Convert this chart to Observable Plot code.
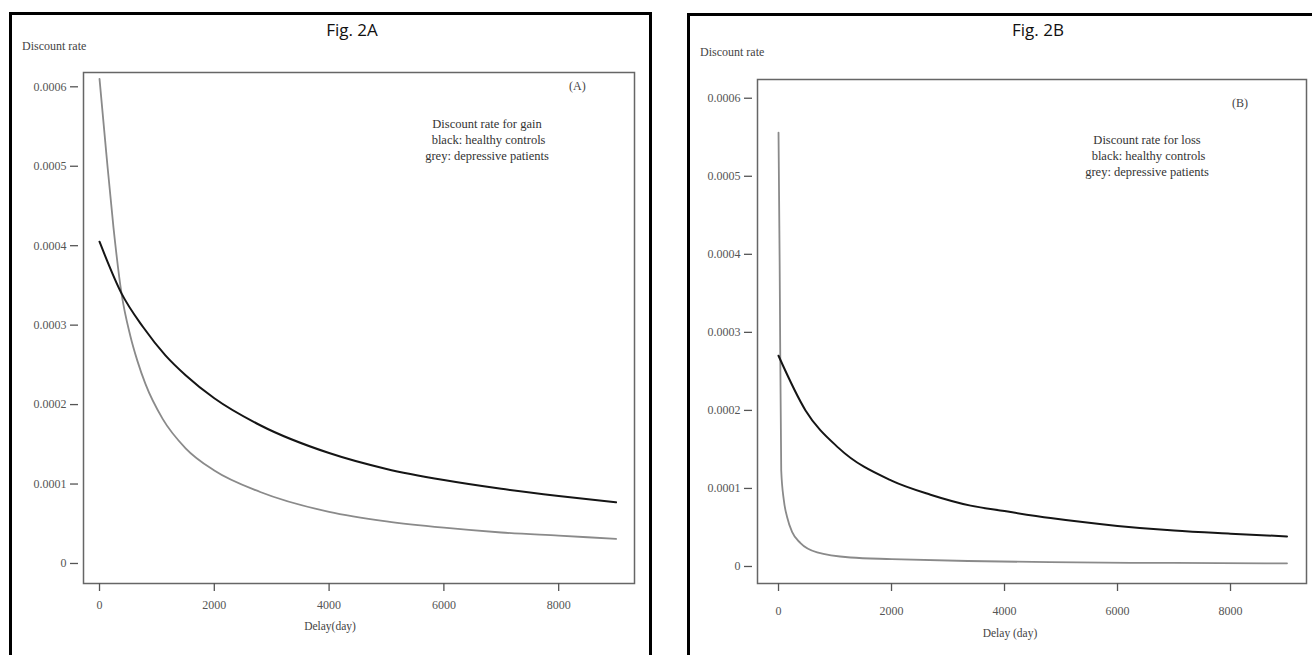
<!DOCTYPE html>
<html>
<head>
<meta charset="utf-8">
<script src="https://cdn.jsdelivr.net/npm/d3@7"></script>
<script src="https://cdn.jsdelivr.net/npm/@observablehq/plot@0.6"></script>
<style>
  html, body { margin: 0; padding: 0; background: #fff; }
  #page { position: relative; width: 1312px; height: 655px; overflow: hidden; background: #fff; }
  .panel { position: absolute; border: 3px solid #000; box-sizing: border-box; }
  .abs { position: absolute; white-space: nowrap; }
  .serif { font-family: "Liberation Serif", "DejaVu Serif", serif; color: #444; }
  .fig { font-family: "Open Sans", "Noto Sans", sans-serif; font-size: 17px; color: #111; transform: translateX(-50%); }
  .legend { font-size: 12.5px; line-height: 16px; text-align: center; transform: translateX(-50%); color: #333; }
  .plotwrap { position: absolute; top: 0; }
</style>
</head>
<body>
<div id="page">
  <div class="panel" style="left:9px; top:12px; width:643px; height:660px;"></div>
  <div class="panel" style="left:687px; top:13px; width:640px; height:660px;"></div>
  <div id="plotA" class="plotwrap" style="left:0px;"></div>
  <div id="plotB" class="plotwrap" style="left:660px;"></div>

  <div class="abs fig" style="left:352px; top:18px;">Fig. 2A</div>
  <div class="abs fig" style="left:1038px; top:18px;">Fig. 2B</div>

  <div class="abs serif" style="left:22px; top:39px; font-size:12px;">Discount rate</div>
  <div class="abs serif" style="left:700px; top:45px; font-size:12px;">Discount rate</div>

  <div class="abs serif" style="left:569px; top:79px; font-size:12px;">(A)</div>
  <div class="abs serif" style="left:1232px; top:96px; font-size:12px;">(B)</div>

  <div class="abs serif legend" style="left:487px; top:116px;">Discount rate for gain<br>&nbsp;black: healthy controls<br>grey: depressive patients</div>
  <div class="abs serif legend" style="left:1147px; top:132px;">Discount rate for loss<br>&nbsp;black: healthy controls<br>grey: depressive patients</div>

  <div class="abs serif" style="left:330px; top:620px; font-size:11.5px; transform:translateX(-50%);">Delay(day)</div>
  <div class="abs serif" style="left:1010px; top:627px; font-size:11.5px; transform:translateX(-50%);">Delay (day)</div>
</div>
<script>
// ---- Data ----
// Fig. 2A (gain)
const gainHealthyDelay = [0, 383, 765, 1148, 1500, 2000, 2800, 4000, 5000, 6000, 7000, 8000, 9000];
const gainHealthyRate  = [0.000405, 0.00034, 0.000297, 0.000262, 0.000237, 0.000208, 0.000174, 0.000139, 0.000119, 0.000105, 0.000094, 0.000085, 0.000077];
const gainDepressedDelay = [0, 120, 243, 383, 535, 660, 800, 1100, 1500, 2000, 2800, 4000, 5000, 6000, 7000, 8000, 9000];
const gainDepressedRate  = [0.00061, 0.000515, 0.000423, 0.00034, 0.000287, 0.000255, 0.000226, 0.000182, 0.000145, 0.000117, 0.00009, 0.000065, 0.000053, 0.000045, 0.000039, 0.000035, 0.000031];
// Fig. 2B (loss)
const lossHealthyDelay = [0, 478, 1062, 2000, 2690, 3400, 4000, 4814, 6000, 7000, 8000, 9000];
const lossHealthyRate  = [0.00027, 0.0002, 0.000152, 0.00011, 0.000092, 0.000078, 0.000071, 0.000062, 0.000052, 0.000046, 0.000042, 0.0000385];
const lossDepressedDelay = [0, 20, 48, 94, 153, 242, 389, 684, 1274, 2000, 3350, 4800, 7000, 9000];
const lossDepressedRate  = [0.000556, 0.00039, 0.000123, 0.000085, 0.000063, 0.000044, 0.00003, 0.000018, 0.0000115, 0.0000095, 0.000007, 0.0000055, 0.0000045, 0.000004];

const xTicks = [0, 2000, 4000, 6000, 8000];
const yTicks = [0, 0.0001, 0.0002, 0.0003, 0.0004, 0.0005, 0.0006];
const yTickLabels = ["0", "0.0001", "0.0002", "0.0003", "0.0004", "0.0005", "0.0006"];

const toRows = (xs, ys) => xs.map((d, i) => ({delay: d, rate: ys[i]}));

function panel({width, margins, xDomain, yDomain, healthy, depressed, xPad}) {
  const fmt = v => yTickLabels[yTicks.findIndex(t => Math.abs(t - v) < 1e-9)];
  return Plot.plot({
    width, height: 655,
    marginLeft: margins[0], marginRight: margins[1], marginTop: margins[2], marginBottom: margins[3],
    style: {background: "transparent", fontFamily: "Liberation Serif, DejaVu Serif, serif", fontSize: "12px"},
    x: {domain: xDomain},
    y: {domain: yDomain},
    marks: [
      Plot.frame({stroke: "#666", strokeWidth: 1.5}),
      Plot.axisY(yTicks, {tickFormat: fmt, tickSize: 8, dx: -5, tickPadding: 4, color: "#555", strokeWidth: 1.3, label: null}),
      Plot.axisX(xTicks, {tickFormat: d => String(d), tickSize: 8, tickPadding: xPad, color: "#555", strokeWidth: 1.3, label: null}),
      Plot.line(depressed, {x: "delay", y: "rate", stroke: "#8a8a8a", strokeWidth: 1.8, curve: "monotone-x"}),
      Plot.line(healthy, {x: "delay", y: "rate", stroke: "#151515", strokeWidth: 2, curve: "monotone-x"})
    ]
  });
}

document.getElementById("plotA").appendChild(panel({
  width: 660,
  margins: [83, 26, 72, 72],
  xDomain: [-279, 9321],
  yDomain: [-0.0000252, 0.000618],
  healthy: toRows(gainHealthyDelay, gainHealthyRate),
  depressed: toRows(gainDepressedDelay, gainDepressedRate),
  xPad: 9
}));

document.getElementById("plotB").appendChild(panel({
  width: 652,
  margins: [97, 6, 79, 72],
  xDomain: [-372, 9345],
  yDomain: [-0.0000218, 0.000624],
  healthy: toRows(lossHealthyDelay, lossHealthyRate),
  depressed: toRows(lossDepressedDelay, lossDepressedRate),
  xPad: 15
}));
</script>
</body>
</html>
